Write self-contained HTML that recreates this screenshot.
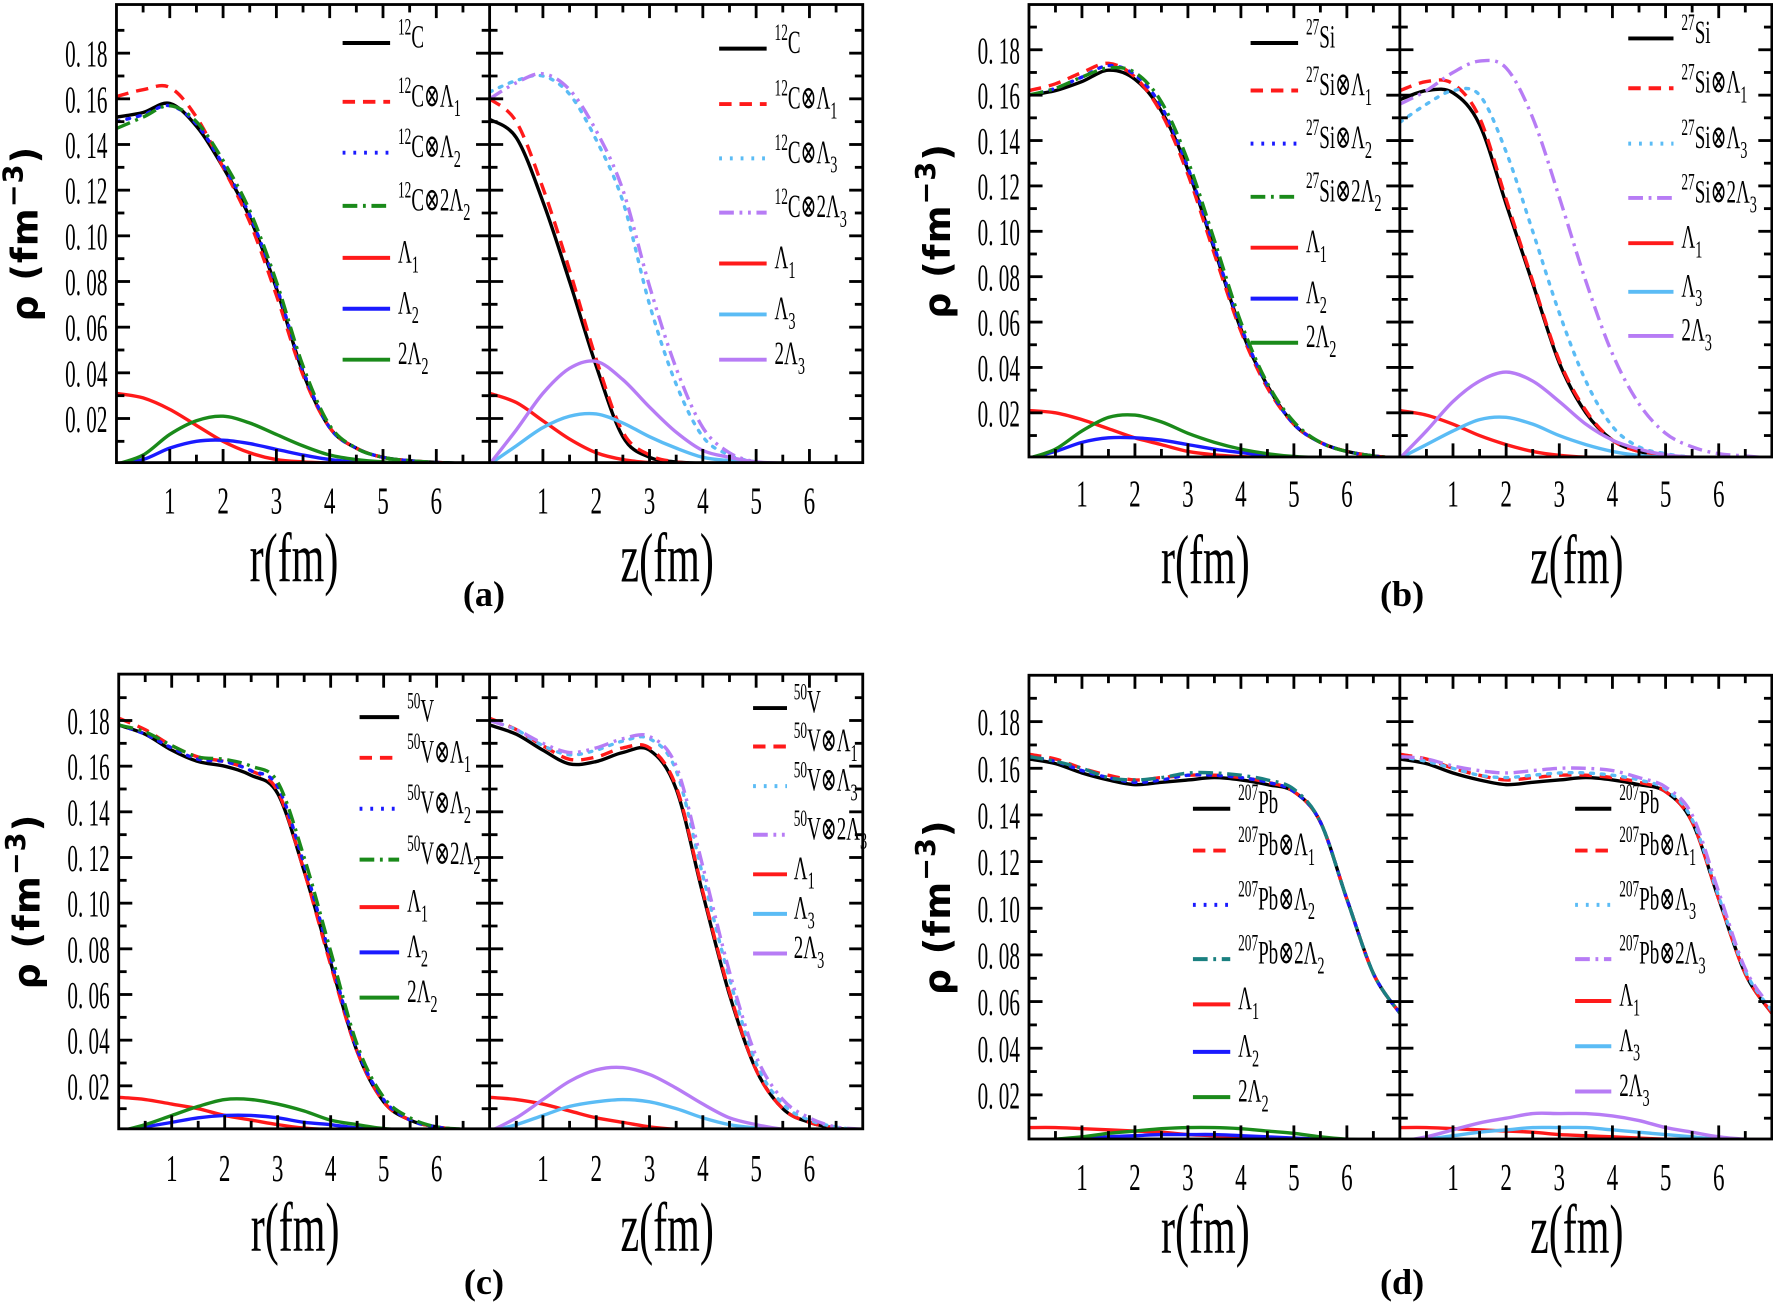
<!DOCTYPE html>
<html><head><meta charset="utf-8"><style>
html,body{margin:0;padding:0;background:#fff;}
svg{display:block;}
</style></head><body>
<svg id="fig" width="1773" height="1303" viewBox="0 0 1568 1152" preserveAspectRatio="none" xmlns="http://www.w3.org/2000/svg"></svg>
<script>
const xGrid=[0,0.5,1,1.5,2,2.5,3,3.5,4,4.5,5,5.5,6,6.5,7];
const yTicks=[0.02,0.04,0.06,0.08,0.10,0.12,0.14,0.16,0.18];
const yTickLabels=["0.02","0.04","0.06","0.08","0.10","0.12","0.14","0.16","0.18"];
const xTicks=[1,2,3,4,5,6];
const xTickLabels=["1","2","3","4","5","6"];
// panel a
const aC=[0.152,0.154,0.158,0.148,0.130,0.108,0.077,0.040,0.016,0.007,0.003,0.0015,0.0008,0.0003,0];
const aCL1=[0.161,0.164,0.165,0.152,0.130,0.106,0.074,0.039,0.016,0.007,0.003,0.0015,0.0008,0.0003,0];
const aCL2=[0.150,0.153,0.157,0.149,0.131,0.109,0.078,0.041,0.016,0.007,0.003,0.0015,0.0008,0.0003,0];
const aC2L2=[0.147,0.152,0.157,0.150,0.133,0.111,0.080,0.043,0.017,0.007,0.003,0.0015,0.0008,0.0003,0];
const aL1=[0.031,0.029,0.024,0.017,0.010,0.005,0.002,0.001,0.0005,0.0002,0,0,0,0,0];
const aL2=[0,0.002,0.007,0.010,0.0105,0.009,0.0065,0.004,0.002,0.001,0.0005,0.0002,0,0,0];
const a2L2=[0,0.004,0.013,0.019,0.021,0.018,0.013,0.008,0.004,0.002,0.001,0.0005,0.0002,0,0];
const azC=[0.151,0.143,0.115,0.080,0.043,0.012,0.003,0.001,0.0003,0,0,0,0,0,0];
const azCL1=[0.160,0.150,0.121,0.085,0.046,0.014,0.004,0.001,0.0003,0,0,0,0,0,0];
const azCL3=[0.163,0.168,0.170,0.162,0.142,0.115,0.070,0.035,0.012,0.004,0.001,0.0003,0,0,0];
const azC2L3=[0.160,0.167,0.171,0.164,0.146,0.120,0.078,0.042,0.016,0.005,0.001,0.0003,0,0,0];
const azL1=[0.031,0.027,0.019,0.011,0.005,0.002,0.0007,0.0002,0,0,0,0,0,0,0];
const azL3=[0,0.008,0.016,0.021,0.022,0.018,0.012,0.007,0.003,0.0015,0.0005,0.0002,0,0,0];
const az2L3=[0,0.015,0.031,0.042,0.045,0.037,0.025,0.014,0.006,0.003,0.001,0.0004,0,0,0];
// panel b
const bSi=[0.160,0.162,0.166,0.171,0.167,0.153,0.127,0.092,0.057,0.032,0.015,0.007,0.003,0.001,0];
const bSiL1=[0.162,0.165,0.170,0.174,0.168,0.152,0.125,0.090,0.056,0.031,0.015,0.007,0.003,0.001,0];
const bSiL2=[0.160,0.163,0.168,0.173,0.169,0.155,0.128,0.093,0.058,0.032,0.015,0.007,0.003,0.001,0];
const bSi2L2=[0.160,0.163,0.168,0.172,0.170,0.157,0.131,0.096,0.060,0.033,0.016,0.007,0.003,0.001,0];
const bL1=[0.021,0.020,0.017,0.013,0.009,0.006,0.003,0.0015,0.0007,0.0003,0,0,0,0,0];
const bL2=[0,0.003,0.007,0.009,0.009,0.008,0.006,0.004,0.0025,0.0012,0.0005,0.0002,0,0,0];
const b2L2=[0,0.004,0.012,0.018,0.019,0.016,0.011,0.007,0.004,0.002,0.0008,0.0003,0,0,0];
const bzSi=[0.158,0.162,0.161,0.147,0.112,0.077,0.042,0.020,0.008,0.003,0.001,0.0003,0,0,0];
const bzSiL1=[0.162,0.166,0.165,0.150,0.114,0.078,0.043,0.021,0.008,0.003,0.001,0.0003,0,0,0];
const bzSiL3=[0.148,0.156,0.162,0.160,0.135,0.100,0.064,0.034,0.014,0.005,0.002,0.0005,0,0,0];
const bzSi2L3=[0.156,0.162,0.170,0.175,0.172,0.150,0.115,0.078,0.046,0.024,0.011,0.005,0.002,0.001,0];
const bzL1=[0.021,0.019,0.015,0.010,0.006,0.003,0.0013,0.0005,0.0002,0,0,0,0,0,0];
const bzL3=[0,0.006,0.012,0.017,0.018,0.015,0.010,0.006,0.003,0.0012,0.0004,0,0,0,0];
const bz2L3=[0,0.012,0.025,0.034,0.038,0.034,0.025,0.015,0.008,0.004,0.0015,0.0005,0,0,0];
// panel c
const cV=[0.178,0.174,0.167,0.162,0.160,0.156,0.148,0.114,0.074,0.035,0.013,0.005,0.002,0.0008,0];
const cVL1=[0.181,0.176,0.169,0.164,0.162,0.158,0.149,0.114,0.073,0.035,0.013,0.005,0.002,0.0008,0];
const cVL2=[0.178,0.174,0.168,0.163,0.162,0.158,0.151,0.117,0.076,0.036,0.014,0.005,0.002,0.0008,0];
const cV2L2=[0.178,0.175,0.169,0.164,0.163,0.160,0.153,0.120,0.079,0.038,0.015,0.006,0.002,0.001,0];
const cL1=[0.015,0.014,0.012,0.010,0.007,0.005,0.003,0.0015,0.0008,0.0003,0,0,0,0,0];
const cL2=[0,0.002,0.004,0.006,0.007,0.007,0.006,0.004,0.003,0.0015,0.0008,0.0003,0,0,0];
const c2L2=[0,0.003,0.007,0.011,0.014,0.014,0.012,0.009,0.005,0.003,0.0013,0.0005,0,0,0];
const czV=[0.178,0.174,0.167,0.161,0.162,0.166,0.167,0.150,0.104,0.060,0.027,0.010,0.004,0.0015,0.0005];
const czVL1=[0.181,0.176,0.169,0.163,0.164,0.168,0.168,0.151,0.105,0.061,0.027,0.010,0.004,0.0015,0.0005];
const czVL3=[0.180,0.176,0.169,0.165,0.167,0.171,0.172,0.158,0.112,0.067,0.030,0.012,0.005,0.002,0.0005];
const czV2L3=[0.180,0.176,0.170,0.166,0.168,0.172,0.173,0.160,0.116,0.070,0.033,0.014,0.006,0.002,0.001];
const czL1=[0.015,0.014,0.012,0.009,0.006,0.004,0.002,0.001,0.0005,0.0002,0,0,0,0,0];
const czL3=[0,0.003,0.007,0.011,0.013,0.014,0.013,0.010,0.006,0.003,0.0015,0.0005,0,0,0];
const cz2L3=[0,0.006,0.014,0.022,0.027,0.028,0.025,0.019,0.012,0.006,0.003,0.001,0.0003,0,0];
// panel d
const dPb=[0.164,0.162,0.158,0.155,0.153,0.154,0.155,0.156,0.155,0.153,0.150,0.137,0.104,0.072,0.055];
const dPbL1=[0.166,0.164,0.160,0.157,0.155,0.156,0.157,0.157,0.156,0.154,0.150,0.137,0.104,0.072,0.055];
const dPbL2=[0.165,0.163,0.159,0.156,0.154,0.155,0.157,0.157,0.156,0.154,0.150,0.137,0.104,0.072,0.055];
const dPb2L2=[0.165,0.163,0.160,0.156,0.155,0.156,0.158,0.158,0.157,0.155,0.151,0.137,0.104,0.072,0.055];
const dL1=[0.006,0.006,0.0055,0.005,0.0045,0.004,0.003,0.0025,0.002,0.0015,0.001,0.0007,0.0004,0.0002,0];
const dL2=[0,0.0005,0.001,0.002,0.0025,0.003,0.003,0.003,0.0025,0.002,0.0015,0.001,0.0005,0.0002,0];
const d2L2=[0,0.001,0.002,0.0035,0.0045,0.0055,0.006,0.006,0.0055,0.0045,0.0035,0.002,0.001,0.0005,0.0002];
const dzPbL3=[0.165,0.163,0.160,0.157,0.156,0.157,0.158,0.158,0.157,0.155,0.151,0.138,0.105,0.073,0.056];
const dzPb2L3=[0.165,0.164,0.161,0.159,0.158,0.159,0.160,0.160,0.159,0.156,0.152,0.140,0.107,0.074,0.057];
const dzL3=[0,0.001,0.0025,0.004,0.005,0.006,0.006,0.006,0.005,0.004,0.003,0.002,0.001,0.0005,0.0002];
const dz2L3=[0,0.002,0.005,0.008,0.010,0.012,0.012,0.012,0.011,0.009,0.006,0.004,0.002,0.001,0.0005];

const K='#000',R='#ff1a1a',B='#1a1aff',G='#1a8a1a',T='#1a8080',LB='#5bbcf5',P='#b77cf5';
const DASH='11,7',DOT='2.5,7',DDOT='13,5,2.5,5',DD2='13,5,2.5,5,2.5,5';
const svg=document.getElementById('fig');
const NS='http://www.w3.org/2000/svg';
function mk(tag,attrs,parent){const e=document.createElementNS(NS,tag);for(const k in attrs)e.setAttribute(k,attrs[k]);(parent||svg).appendChild(e);return e;}
function rich(t,x,y,size,sx,parent,anchor,weight){
  const g=mk('g',{transform:`translate(${x},${y}) scale(${sx},1)`},parent);
  const tx=mk('text',{x:0,y:0,'font-family':'Liberation Serif, DejaVu Serif, serif','font-size':size,'text-anchor':anchor||'start','font-weight':weight||'normal',fill:'#000'},g);
  const re=/\^\{([^}]*)\}|_\{([^}]*)\}|([^^_]+)/g;let m;let cur=0;
  while((m=re.exec(t))){const ts=document.createElementNS(NS,'tspan');
    let target,fs,txt;
    if(m[1]!==undefined){target=-size*0.4;fs=size*0.7;txt=m[1];}
    else if(m[2]!==undefined){target=size*0.3;fs=size*0.75;txt=m[2];}
    else{target=0;fs=size;txt=m[3];}
    ts.setAttribute('font-size',fs);
    ts.setAttribute('dy',(target-cur).toFixed(1));
    cur=target;
    ts.textContent=txt;tx.appendChild(ts);
  }
  return g;
}
function smoothPath(pts){let d=`M${pts[0][0].toFixed(1)},${pts[0][1].toFixed(1)}`;
  for(let i=0;i<pts.length-1;i++){const p0=pts[i-1]||pts[i],p1=pts[i],p2=pts[i+1],p3=pts[i+2]||p2;
    const c1=[p1[0]+(p2[0]-p0[0])/6,p1[1]+(p2[1]-p0[1])/6],c2=[p2[0]-(p3[0]-p1[0])/6,p2[1]-(p3[1]-p1[1])/6];
    d+=` C${c1[0].toFixed(1)},${c1[1].toFixed(1)} ${c2[0].toFixed(1)},${c2[1].toFixed(1)} ${p2[0].toFixed(1)},${p2[1].toFixed(1)}`;}
  return d;}

function panel(cfg){
  const {id,left,mid,right,top,bottom,y18,y02,series,legends,letter,lx,ly,xlabY,tickY}=cfg;
  const pg=mk('g',{});
  
  
  const yv=v=>y18+(0.18-v)*(y02-y18)/0.16;
  const subs=[[left,mid,'r'],[mid,right,'z']];
  subs.forEach((s,si)=>{
    const xs=x=>s[0]+x*(s[1]-s[0])/7;
    const sg=mk('g',{},pg);
    
    
    const cid=`clip-${id}-${si}`;
    const cp=mk('clipPath',{id:cid},sg);mk('rect',{x:s[0],y:top,width:s[1]-s[0],height:bottom-top},cp);
    const lg=mk('g',{'clip-path':`url(#${cid})`},sg);
    series[si].forEach(se=>{
      const pts=xGrid.map((x,i)=>[xs(x),yv(se.v[i])]);
      const p=mk('path',{d:smoothPath(pts),fill:'none',stroke:se.c,'stroke-width':3,'stroke-linecap':se.d===DOT?'round':'butt'},lg);
      if(se.d)p.setAttribute('stroke-dasharray',se.d);
      
      
    });
    for(let x=0.5;x<7;x+=0.5){const X=xs(x),L=Number.isInteger(x)?12:7;
      mk('line',{x1:X,y1:bottom,x2:X,y2:bottom-L,stroke:'#000','stroke-width':2.5},sg);
      mk('line',{x1:X,y1:top,x2:X,y2:top+L,stroke:'#000','stroke-width':2.5},sg);}
    xTicks.forEach((t,i)=>{const tl=rich(xTickLabels[i],xs(t),tickY,34,0.6,sg,'middle');
      });
    const xl=rich(s[2]+'(fm)',(s[0]+s[1])/2-8,xlabY,62,0.6,sg,'middle');
    
    
    const L=legends[si];
    L.items.forEach((it,i)=>{
      const y=L.rows[i];
      const ln=mk('line',{x1:L.x1,y1:y,x2:L.x2,y2:y,stroke:it.c,'stroke-width':3.5},sg);
      if(it.d)ln.setAttribute('stroke-dasharray',it.d);
      
      
      const t=rich(it.t,L.tx,y+4,29,0.58,sg);
      
      
    });
  });
  for(let v=0.01;v<0.195;v+=0.01){const Y=yv(v),maj=Math.round(v*100)%2===0,Ln=maj?12:7;
    mk('line',{x1:left,y1:Y,x2:left+Ln,y2:Y,stroke:'#000','stroke-width':2.5},pg);
    mk('line',{x1:mid-Ln,y1:Y,x2:mid+Ln,y2:Y,stroke:'#000','stroke-width':2.5},pg);
    mk('line',{x1:right-Ln,y1:Y,x2:right,y2:Y,stroke:'#000','stroke-width':2.5},pg);}
  yTicks.forEach((v,i)=>{const t=rich(yTickLabels[i].replace('.','. '),left-8,yv(v)+12,34,0.55,pg,'end');
    });
  mk('rect',{x:left,y:top,width:right-left,height:bottom-top,fill:'none',stroke:'#000','stroke-width':2.5},pg);
  mk('line',{x1:mid,y1:top,x2:mid,y2:bottom,stroke:'#000','stroke-width':2.5},pg);
  const yt=mk('text',{x:0,y:0,transform:`translate(${left-70},${(top+bottom)/2}) rotate(-90)`,'font-family':'DejaVu Sans, sans-serif','font-size':32,'font-weight':'bold','text-anchor':'middle','letter-spacing':'1'},pg);
  yt.innerHTML='ρ (fm<tspan font-size="24" dy="-13">−3</tspan><tspan dy="13">)</tspan>';
  
  
  const pl=mk('text',{x:lx,y:ly,'font-family':'Liberation Serif, serif','font-size':32,'font-weight':'bold','text-anchor':'middle'},pg);
  pl.textContent=letter;
  
  
}

panel({id:'a',left:103,mid:433,right:763,top:4,bottom:409,y18:47,y02:370,letter:'(a)',lx:428,ly:536,xlabY:514,tickY:454,
 series:[[{n:'c12',v:aC,c:K},{n:'c12-l1',v:aCL1,c:R,d:DASH},{n:'c12-l2',v:aCL2,c:B,d:DOT},{n:'c12-2l2',v:aC2L2,c:G,d:DDOT},{n:'l1',v:aL1,c:R},{n:'l2',v:aL2,c:B},{n:'2l2',v:a2L2,c:G}],
  [{n:'c12',v:azC,c:K},{n:'c12-l1',v:azCL1,c:R,d:DASH},{n:'c12-l3',v:azCL3,c:LB,d:DOT},{n:'c12-2l3',v:azC2L3,c:P,d:DD2},{n:'l1',v:azL1,c:R},{n:'l3',v:azL3,c:LB},{n:'2l3',v:az2L3,c:P}]],
 legends:[{x1:303,x2:345,tx:352,rows:[38,90,135,182,228,273,318],items:[{t:'^{12}C',c:K},{t:'^{12}C⊗Λ_{1}',c:R,d:DASH},{t:'^{12}C⊗Λ_{2}',c:B,d:DOT},{t:'^{12}C⊗2Λ_{2}',c:G,d:DDOT},{t:'Λ_{1}',c:R},{t:'Λ_{2}',c:B},{t:'2Λ_{2}',c:G}]},
  {x1:636,x2:678,tx:685,rows:[43,92,140,188,233,278,318],items:[{t:'^{12}C',c:K},{t:'^{12}C⊗Λ_{1}',c:R,d:DASH},{t:'^{12}C⊗Λ_{3}',c:LB,d:DOT},{t:'^{12}C⊗2Λ_{3}',c:P,d:DD2},{t:'Λ_{1}',c:R},{t:'Λ_{3}',c:LB},{t:'2Λ_{3}',c:P}]}]});

panel({id:'b',left:910,mid:1238,right:1567,top:4,bottom:404,y18:44,y02:365,letter:'(b)',lx:1240,ly:536,xlabY:516,tickY:448,
 series:[[{n:'si27',v:bSi,c:K},{n:'si27-l1',v:bSiL1,c:R,d:DASH},{n:'si27-l2',v:bSiL2,c:B,d:DOT},{n:'si27-2l2',v:bSi2L2,c:G,d:DDOT},{n:'l1',v:bL1,c:R},{n:'l2',v:bL2,c:B},{n:'2l2',v:b2L2,c:G}],
  [{n:'si27',v:bzSi,c:K},{n:'si27-l1',v:bzSiL1,c:R,d:DASH},{n:'si27-l3',v:bzSiL3,c:LB,d:DOT},{n:'si27-2l3',v:bzSi2L3,c:P,d:DDOT},{n:'l1',v:bzL1,c:R},{n:'l3',v:bzL3,c:LB},{n:'2l3',v:bz2L3,c:P}]],
 legends:[{x1:1106,x2:1148,tx:1155,rows:[38,80,127,174,219,264,303],items:[{t:'^{27}Si',c:K},{t:'^{27}Si⊗Λ_{1}',c:R,d:DASH},{t:'^{27}Si⊗Λ_{2}',c:B,d:DOT},{t:'^{27}Si⊗2Λ_{2}',c:G,d:DDOT},{t:'Λ_{1}',c:R},{t:'Λ_{2}',c:B},{t:'2Λ_{2}',c:G}]},
  {x1:1440,x2:1480,tx:1487,rows:[34,78,127,175,215,258,297],items:[{t:'^{27}Si',c:K},{t:'^{27}Si⊗Λ_{1}',c:R,d:DASH},{t:'^{27}Si⊗Λ_{3}',c:LB,d:DOT},{t:'^{27}Si⊗2Λ_{3}',c:P,d:DDOT},{t:'Λ_{1}',c:R},{t:'Λ_{3}',c:LB},{t:'2Λ_{3}',c:P}]}]});

panel({id:'c',left:105,mid:433,right:763,top:596,bottom:998,y18:637,y02:960,letter:'(c)',lx:428,ly:1144,xlabY:1106,tickY:1044,
 series:[[{n:'v50',v:cV,c:K},{n:'v50-l1',v:cVL1,c:R,d:DASH},{n:'v50-l2',v:cVL2,c:B,d:DOT},{n:'v50-2l2',v:cV2L2,c:G,d:DDOT},{n:'l1',v:cL1,c:R},{n:'l2',v:cL2,c:B},{n:'2l2',v:c2L2,c:G}],
  [{n:'v50',v:czV,c:K},{n:'v50-l1',v:czVL1,c:R,d:DASH},{n:'v50-l3',v:czVL3,c:LB,d:DOT},{n:'v50-2l3',v:czV2L3,c:P,d:DD2},{n:'l1',v:czL1,c:R},{n:'l3',v:czL3,c:LB},{n:'2l3',v:cz2L3,c:P}]],
 legends:[{x1:318,x2:353,tx:360,rows:[634,670,715,760,802,842,882],items:[{t:'^{50}V',c:K},{t:'^{50}V⊗Λ_{1}',c:R,d:DASH},{t:'^{50}V⊗Λ_{2}',c:B,d:DOT},{t:'^{50}V⊗2Λ_{2}',c:G,d:DDOT},{t:'Λ_{1}',c:R},{t:'Λ_{2}',c:B},{t:'2Λ_{2}',c:G}]},
  {x1:666,x2:696,tx:702,rows:[626,660,695,738,773,808,843],items:[{t:'^{50}V',c:K},{t:'^{50}V⊗Λ_{1}',c:R,d:DASH},{t:'^{50}V⊗Λ_{3}',c:LB,d:DOT},{t:'^{50}V⊗2Λ_{3}',c:P,d:DD2},{t:'Λ_{1}',c:R},{t:'Λ_{3}',c:LB},{t:'2Λ_{3}',c:P}]}]});

panel({id:'d',left:910,mid:1238,right:1567,top:597,bottom:1007,y18:638,y02:968,letter:'(d)',lx:1240,ly:1144,xlabY:1108,tickY:1052,
 series:[[{n:'pb207',v:dPb,c:K},{n:'pb207-l1',v:dPbL1,c:R,d:DASH},{n:'pb207-l2',v:dPbL2,c:B,d:DOT},{n:'pb207-2l2',v:dPb2L2,c:T,d:DDOT},{n:'l1',v:dL1,c:R},{n:'l2',v:dL2,c:B},{n:'2l2',v:d2L2,c:G}],
  [{n:'pb207',v:dPb,c:K},{n:'pb207-l1',v:dPbL1,c:R,d:DASH},{n:'pb207-l3',v:dzPbL3,c:LB,d:DOT},{n:'pb207-2l3',v:dzPb2L3,c:P,d:DDOT},{n:'l1',v:dL1,c:R},{n:'l3',v:dzL3,c:LB},{n:'2l3',v:dz2L3,c:P}]],
 legends:[{x1:1055,x2:1088,tx:1095,rows:[715,752,800,848,888,930,970],items:[{t:'^{207}Pb',c:K},{t:'^{207}Pb⊗Λ_{1}',c:R,d:DASH},{t:'^{207}Pb⊗Λ_{2}',c:B,d:DOT},{t:'^{207}Pb⊗2Λ_{2}',c:T,d:DDOT},{t:'Λ_{1}',c:R},{t:'Λ_{2}',c:B},{t:'2Λ_{2}',c:G}]},
  {x1:1393,x2:1425,tx:1432,rows:[715,752,800,848,885,925,965],items:[{t:'^{207}Pb',c:K},{t:'^{207}Pb⊗Λ_{1}',c:R,d:DASH},{t:'^{207}Pb⊗Λ_{3}',c:LB,d:DOT},{t:'^{207}Pb⊗2Λ_{3}',c:P,d:DDOT},{t:'Λ_{1}',c:R},{t:'Λ_{3}',c:LB},{t:'2Λ_{3}',c:P}]}]});
</script>
</body></html>
